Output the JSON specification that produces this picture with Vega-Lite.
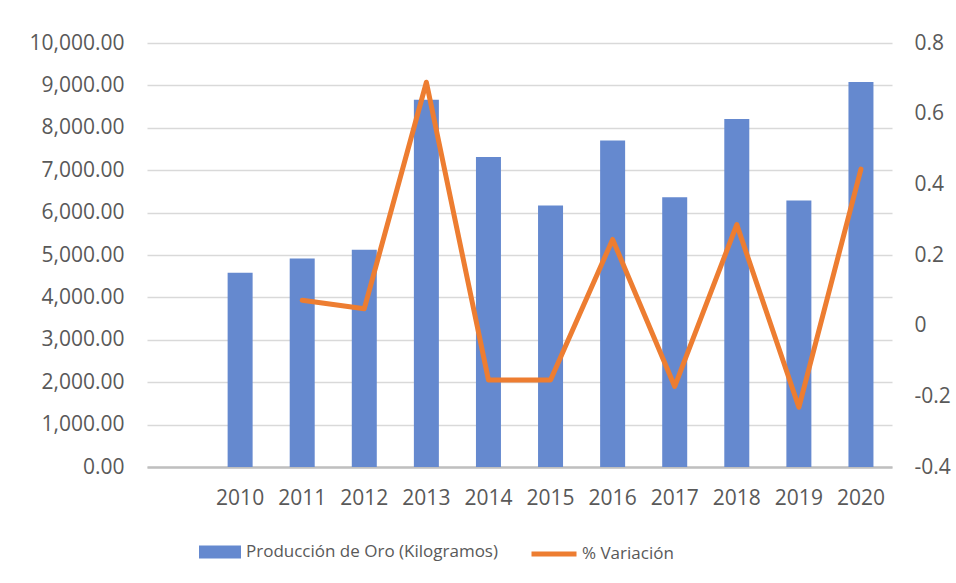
{
  "$schema": "https://vega.github.io/schema/vega-lite/v6.json",
  "width": 745,
  "height": 424,
  "autosize": {"type": "none"},
  "padding": {"left": 147, "top": 43, "right": 64, "bottom": 116},
  "background": "white",
  "config": {
    "view": {"stroke": null},
    "font": "Open Sans",
    "locale": {"number": {"decimal": ".", "thousands": ",", "grouping": [3], "currency": ["$", ""], "minus": "-"}}
  },
  "data": {
    "values": [
      {"year": "2010", "prod": 4581, "var": null},
      {"year": "2011", "prod": 4918, "var": 0.072},
      {"year": "2012", "prod": 5122, "var": 0.048},
      {"year": "2013", "prod": 8664, "var": 0.689},
      {"year": "2014", "prod": 7314, "var": -0.154},
      {"year": "2015", "prod": 6166, "var": -0.154},
      {"year": "2016", "prod": 7698, "var": 0.244},
      {"year": "2017", "prod": 6362, "var": -0.172},
      {"year": "2018", "prod": 8209, "var": 0.286},
      {"year": "2019", "prod": 6284, "var": -0.231},
      {"year": "2020", "prod": 9081, "var": 0.443}
    ]
  },
  "layer": [
    {
      "mark": {"type": "bar", "size": 25},
      "encoding": {
        "x": {
          "field": "year", "type": "ordinal",
          "scale": {"domain": ["", "2010", "2011", "2012", "2013", "2014", "2015", "2016", "2017", "2018", "2019", "2020"], "paddingInner": 0, "paddingOuter": 0},
          "axis": {"title": null, "labelAngle": 0, "ticks": false, "domainColor": "#bfbfbf", "domainWidth": 2.5, "labelPadding": 20, "labelFontSize": 21, "labelColor": "#595959", "grid": false}
        },
        "y": {
          "field": "prod", "type": "quantitative",
          "scale": {"domain": [0, 10000], "nice": false},
          "axis": {"title": null, "values": [0, 1000, 2000, 3000, 4000, 5000, 6000, 7000, 8000, 9000, 10000], "format": ",.2f", "domain": false, "ticks": false, "labelPadding": 23, "labelFontSize": 21, "labelColor": "#595959", "gridColor": "#d9d9d9", "gridWidth": 1.3}
        },
        "fill": {
          "datum": "Producción de Oro (Kilogramos)",
          "scale": {"range": ["#6589cf"]},
          "legend": {"title": null, "orient": "none", "legendX": 52, "legendY": 488, "padding": 0, "symbolType": "M-1,-0.31H1V0.31H-1Z", "symbolSize": 1764, "symbolStrokeWidth": 0, "labelOffset": 5, "labelFontSize": 17, "labelColor": "#595959", "labelLimit": 500}
        }
      }
    },
    {
      "mark": {"type": "line", "strokeWidth": 5, "strokeCap": "round", "strokeJoin": "round"},
      "encoding": {
        "x": {"field": "year", "type": "ordinal"},
        "y": {
          "field": "var", "type": "quantitative",
          "scale": {"domain": [-0.4, 0.8], "nice": false, "zero": false},
          "axis": {"title": null, "orient": "right", "values": [-0.4, -0.2, 0, 0.2, 0.4, 0.6, 0.8], "format": ".1~f", "domain": false, "ticks": false, "grid": false, "labelPadding": 22, "labelFontSize": 21, "labelColor": "#595959"}
        },
        "stroke": {
          "datum": "% Variación",
          "scale": {"range": ["#ED7D31"]},
          "legend": {"title": null, "orient": "none", "legendX": 382, "legendY": 486, "padding": 0, "symbolType": "stroke", "symbolSize": 2025, "symbolStrokeWidth": 5, "labelOffset": 3, "labelFontSize": 17, "labelColor": "#595959", "labelLimit": 300}
        }
      }
    }
  ],
  "resolve": {"scale": {"y": "independent"}}
}
